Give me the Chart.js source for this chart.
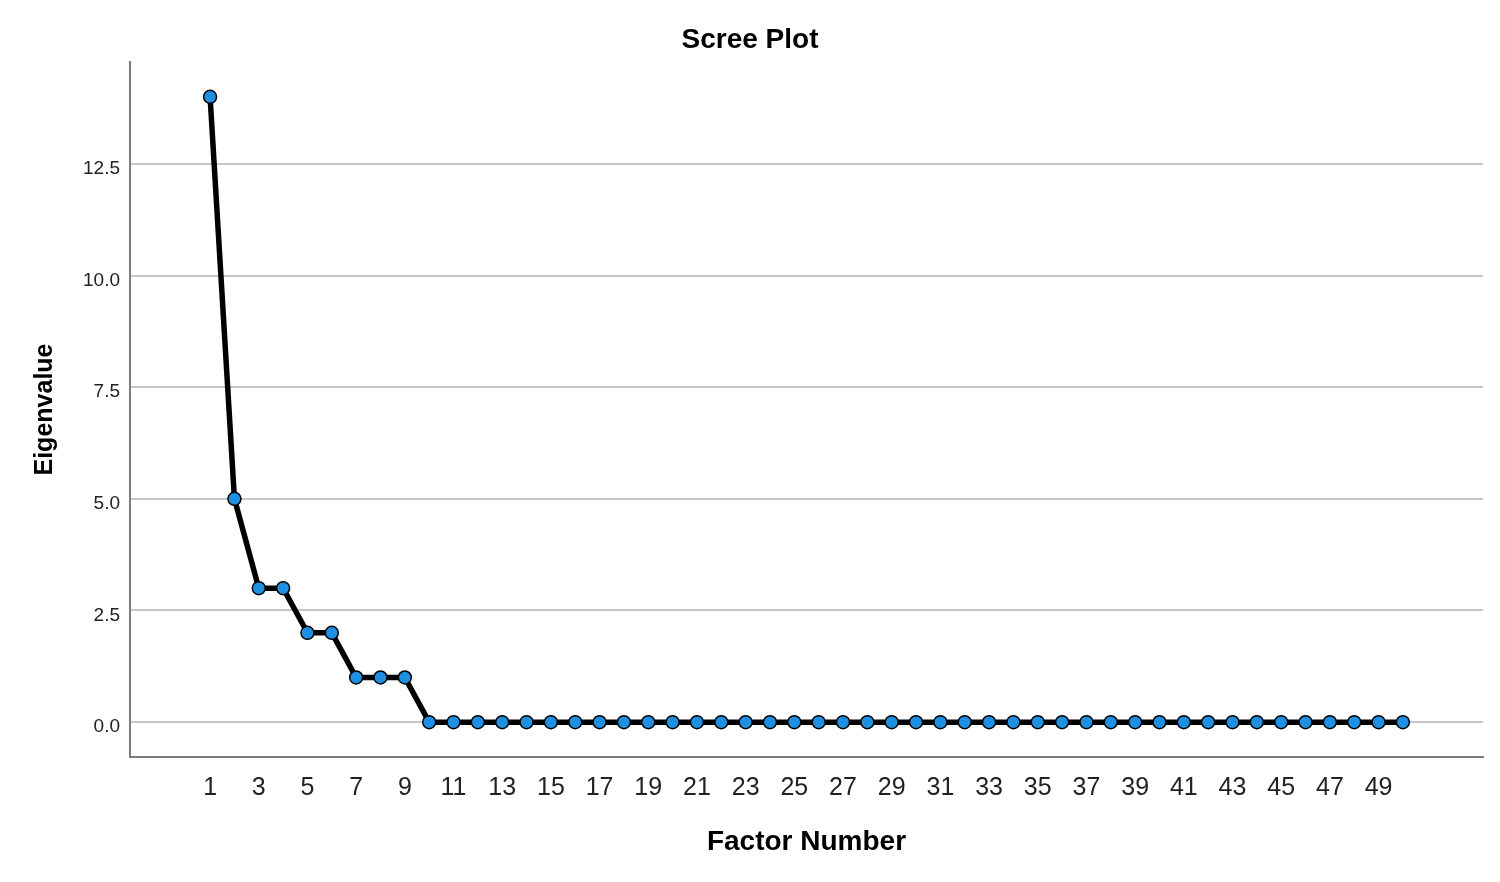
<!DOCTYPE html>
<html>
<head>
<meta charset="utf-8">
<script src="https://cdn.jsdelivr.net/npm/chart.js@4/dist/chart.umd.min.js"></script>
<style>
  html, body { margin: 0; padding: 0; background: #fff; }
  #wrap { width: 1500px; height: 882px; }
</style>
</head>
<body>
<div id="wrap"><canvas id="chart" width="1500" height="882"></canvas></div>
<script>
const factors = [1, 2, 3, 4, 5, 6, 7, 8, 9, 10,
  11, 12, 13, 14, 15, 16, 17, 18, 19, 20,
  21, 22, 23, 24, 25, 26, 27, 28, 29, 30,
  31, 32, 33, 34, 35, 36, 37, 38, 39, 40,
  41, 42, 43, 44, 45, 46, 47, 48, 49, 50];
const eigenvalues = [14, 5, 3, 3, 2, 2, 1, 1, 1, 0,
  0, 0, 0, 0, 0, 0, 0, 0, 0, 0,
  0, 0, 0, 0, 0, 0, 0, 0, 0, 0,
  0, 0, 0, 0, 0, 0, 0, 0, 0, 0,
  0, 0, 0, 0, 0, 0, 0, 0, 0, 0];
const xTicks = [1, 3, 5, 7, 9, 11, 13, 15, 17, 19, 21, 23, 25,
  27, 29, 31, 33, 35, 37, 39, 41, 43, 45, 47, 49];
const yTicks = [0, 2.5, 5, 7.5, 10, 12.5];

const font = '"Liberation Sans", Arial, sans-serif';
const ctx = document.getElementById("chart");

new Chart(ctx, {
  type: "line",
  data: {
    datasets: [{
      label: "Eigenvalue",
      data: factors.map((f, i) => ({ x: f, y: eigenvalues[i] })),
      borderColor: "#000",
      borderWidth: 5.5,
      pointRadius: 6.5,
      pointBorderWidth: 1.5,
      pointBorderColor: "#000",
      pointBackgroundColor: "#1f8fe2",
      tension: 0,
    }],
  },
  options: {
    responsive: false,
    animation: false,
    // equal side padding keeps the title centred on the page
    layout: { padding: { left: 17, right: 17, top: 0, bottom: 0 } },
    plugins: {
      legend: { display: false },
      tooltip: { enabled: false },
      title: {
        display: true,
        text: "Scree Plot",
        color: "#000",
        font: { family: font, size: 28, weight: "bold" },
        padding: { top: 23, bottom: 5.4 },
      },
    },
    scales: {
      x: {
        type: "linear",
        min: -2.29,
        max: 53.29,
        afterBuildTicks: (s) => { s.ticks = xTicks.map(v => ({ value: v })); },
        afterFit: (s) => { s.height = 125; },
        grid: { color: "transparent", drawTicks: false },
        border: { display: true, color: "#7a7a7a", width: 2 },
        ticks: {
          color: "#222",
          padding: 16,
          maxRotation: 0,
          autoSkip: false,
          font: { family: font, size: 25 },
        },
        title: {
          display: true,
          text: "Factor Number",
          color: "#000",
          font: { family: font, size: 28, weight: "bold" },
          padding: { top: 0, bottom: 23 },
        },
      },
      y: {
        min: -0.78,
        max: 14.78,
        afterBuildTicks: (s) => { s.ticks = yTicks.map(v => ({ value: v })); },
        afterFit: (s) => { s.width = 113; },
        grid: { color: "#c6c6c6", lineWidth: 2, drawTicks: false },
        border: { display: true, color: "#7a7a7a", width: 2 },
        ticks: {
          color: "#222",
          padding: 10,
          labelOffset: 5,
          font: { family: font, size: 19 },
          callback: (v) => v.toFixed(1),
        },
        title: {
          display: true,
          text: "Eigenvalue",
          color: "#000",
          font: { family: font, size: 25, weight: "bold" },
          padding: { top: 13, bottom: 0 },
        },
      },
    },
  },
});
</script>
</body>
</html>
